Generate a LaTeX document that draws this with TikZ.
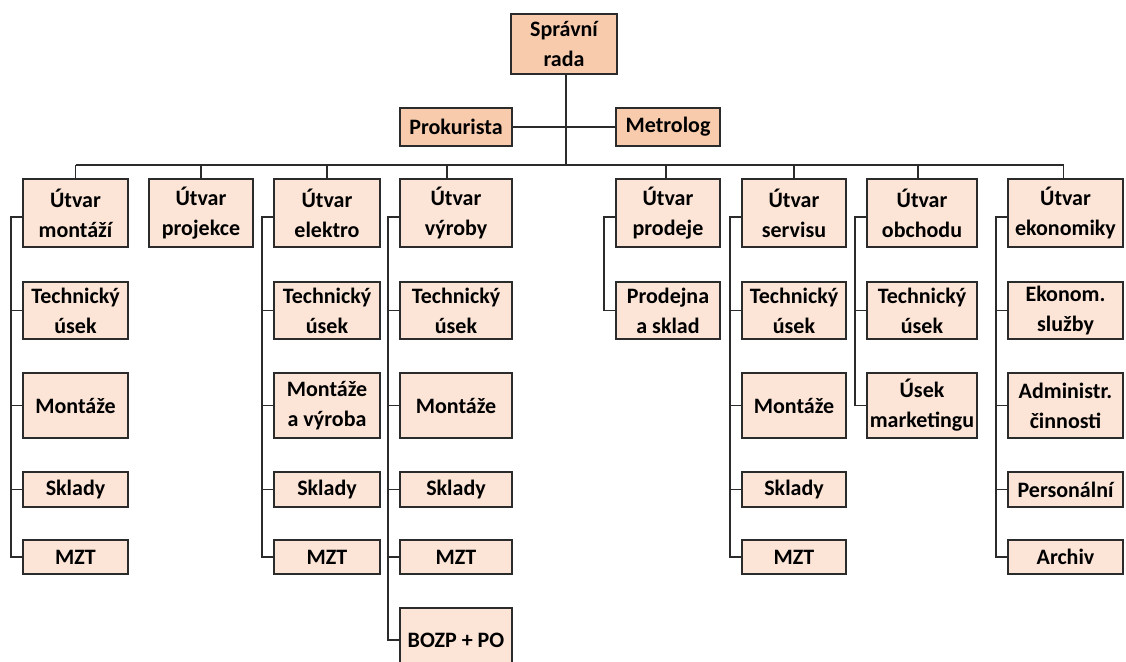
\documentclass[tikz,border=0pt]{standalone}
\usepackage{fontspec}
\setmainfont{Carlito}
\definecolor{dk}{HTML}{F8CBAD}
\definecolor{lt}{HTML}{FCE4D6}
\definecolor{bd}{HTML}{2B2B2B}
\tikzset{
  box/.style={draw=bd,line width=1.9pt,fill=lt,inner sep=0pt,align=center,
    font=\fontsize{22}{30}\selectfont\bfseries,text=black},
  ln/.style={line width=1.6pt,draw=bd},
}
\newcommand\bx[7][]{\node[box,#1,minimum width={(#5-#3)*1pt},minimum height={(#6-#4)*1pt}] (#2) at ({(#3+#5)/2},{(#4+#6)/2}) {#7};}
\begin{document}
\begin{tikzpicture}[x=1pt,y=-1pt]
\useasboundingbox[fill=white] (0,0) rectangle (1126,661);
\clip (0,0) rectangle (1126,661);
% top
\bx[fill=dk]{sr}{511}{14}{617}{74}{Správní\\rada}
\bx[fill=dk]{prok}{400}{108}{512}{146}{Prokurista}
\bx[fill=dk]{metr}{616}{108}{720}{146}{Metrolog}
% column heads
\bx{a1}{23}{179}{128}{247}{Útvar\\montáží}
\bx{b1}{149}{179}{253}{247}{Útvar\\projekce}
\bx{c1}{274}{179}{380}{247}{Útvar\\elektro}
\bx{d1}{400}{179}{512}{247}{Útvar\\výroby}
\bx{e1}{616}{179}{720}{247}{Útvar\\prodeje}
\bx{f1}{742}{179}{846}{247}{Útvar\\servisu}
\bx{g1}{867}{179}{977}{247}{Útvar\\obchodu}
\bx{h1}{1008}{179}{1123}{247}{Útvar\\ekonomiky}
% column a
\bx{a2}{23}{282}{128}{339}{Technický\\úsek}
\bx{a3}{23}{373}{128}{438}{Montáže}
\bx{a4}{23}{472}{128}{507}{Sklady}
\bx{a5}{23}{540}{128}{574}{MZT}
% column c
\bx{c2}{274}{282}{380}{339}{Technický\\úsek}
\bx{c3}{274}{373}{380}{438}{Montáže\\a výroba}
\bx{c4}{274}{472}{380}{507}{Sklady}
\bx{c5}{274}{540}{380}{574}{MZT}
% column d
\bx{d2}{400}{282}{512}{339}{Technický\\úsek}
\bx{d3}{400}{373}{512}{438}{Montáže}
\bx{d4}{400}{472}{512}{507}{Sklady}
\bx{d5}{400}{540}{512}{574}{MZT}
\bx{d6}{400}{608}{512}{672}{BOZP + PO}
% column e
\bx{e2}{616}{282}{720}{339}{Prodejna\\a sklad}
% column f
\bx{f2}{742}{282}{846}{339}{Technický\\úsek}
\bx{f3}{742}{373}{846}{438}{Montáže}
\bx{f4}{742}{472}{846}{507}{Sklady}
\bx{f5}{742}{540}{846}{574}{MZT}
% column g
\bx{g2}{867}{282}{977}{339}{Technický\\úsek}
\bx{g3}{867}{373}{977}{438}{Úsek\\marketingu}
% column h
\bx{h2}{1008}{282}{1123}{339}{Ekonom.\\služby}
\bx{h3}{1008}{373}{1123}{438}{Administr.\\činnosti}
\bx{h4}{1008}{472}{1123}{507}{Personální}
\bx{h5}{1008}{540}{1123}{574}{Archiv}
% connectors
\coordinate (bus) at (0,165);
\draw[ln] ([xshift=2pt]sr.south) -- ([xshift=2pt]sr.south |- bus);
\draw[ln] (prok.east) -- (metr.west);
\draw[ln] (a1.north |- bus) -- ([xshift=-2pt]h1.north |- bus);
\foreach \n/\s in {a1/0,b1/0,c1/0,d1/-9,e1/-2,f1/0,g1/-4,h1/-2}
  \draw[ln] ([xshift=\s pt]\n.north) -- ([xshift=\s pt]\n.north |- bus);
% side trees
\foreach \t/\l in {a/5,c/5,d/6,e/2,f/5,g/3,h/5}{
  \draw[ln] ([yshift=-4pt]\t1.west) -- ++(-11,0) |- (\t\l.west);
}
\foreach \n in {a2,a3,a4,c2,c3,c4,d2,d3,d4,d5,f2,f3,f4,g2,h2,h3,h4}
  \draw[ln] (\n.west) -- ++(-11,0);
\end{tikzpicture}
\end{document}
